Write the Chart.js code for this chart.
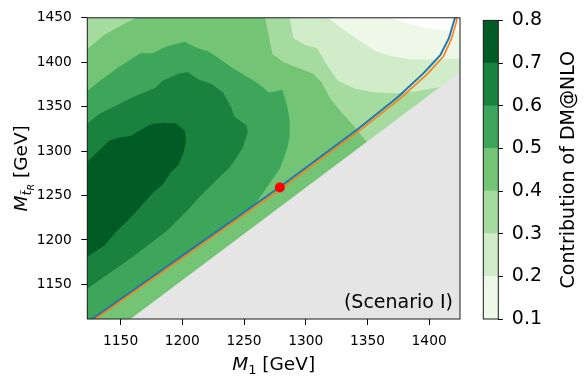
<!DOCTYPE html>
<html><head><meta charset="utf-8">
<script src="https://cdn.jsdelivr.net/npm/chart.js@4.4.0/dist/chart.umd.min.js"></script>
<style>
html,body{margin:0;padding:0;background:#fff;}
#wrap{position:relative;width:588px;height:383px;overflow:hidden;background:#fff;}
#main{position:absolute;left:0;top:0;width:470px;height:383px;}
#cbar{position:absolute;left:470px;top:0;width:118px;height:383px;}
</style></head><body>
<div id="wrap">
<canvas id="main" width="470" height="383"></canvas>
<canvas id="cbar" width="118" height="383"></canvas>
</div>
<script>
// ---------------- data (GeV) ----------------
const xRange = [1123, 1425];
const yRange = [1111, 1450];
const xTicks = [1150, 1200, 1250, 1300, 1350, 1400];
const yTicks = [1150, 1200, 1250, 1300, 1350, 1400, 1450];
const levels = [0.1, 0.2, 0.3, 0.4, 0.5, 0.6, 0.7, 0.8];
const bandColors = ['#edf8e9', '#d0ecc9', '#a6dba0', '#74c476', '#3da65a', '#19823e', '#005b25'];

// contour lines, [M1, MtR]
const contour01 = [[1369,1450],[1382,1444],[1399,1438],[1417,1435],[1425,1435]];
const contour02 = [[1318,1450],[1332,1435],[1346,1422],[1356,1413],[1369,1407],[1385,1403],[1405,1403],[1425,1404]];
const contour03 = [[1287,1450],[1290,1427],[1300,1419],[1309,1416],[1317,1397],[1326,1379],[1340,1370],[1356,1366],[1373,1365],[1389,1367],[1409,1372]];
const contour04L = [[1123,1415],[1137,1431],[1154,1444],[1163,1450]];
const contour04R = [[1267,1450],[1270,1430],[1273,1409],[1282,1400],[1293,1394],[1306,1387],[1313,1377],[1320,1359],[1328,1345],[1338,1330],[1349,1311]];
const contour05 = [[1123,1368],[1136,1382],[1148,1394],[1166,1410],[1176,1410],[1186,1417],[1202,1423],[1210,1417],[1221,1412],[1229,1405],[1240,1394],[1257,1380],[1265,1372],[1270,1366],[1275,1367],[1281,1369],[1285,1351],[1287,1334],[1287,1317],[1285,1303],[1279,1280],[1271,1264],[1261,1244],[1256,1235],[1129,1111]];
const contour06 = [[1123,1331],[1133,1342],[1156,1358],[1164,1363],[1178,1371],[1184,1379],[1197,1387],[1204,1389],[1214,1380],[1223,1376],[1233,1366],[1240,1348],[1242,1339],[1252,1329],[1253,1321],[1249,1304],[1244,1293],[1238,1281],[1229,1269],[1215,1250],[1204,1233],[1188,1211],[1160,1181],[1133,1155],[1123,1145]];
const contour07 = [[1123,1288],[1141,1312],[1148,1315],[1158,1317],[1174,1330],[1184,1332],[1195,1331],[1202,1323],[1203,1312],[1201,1298],[1197,1285],[1190,1275],[1184,1262],[1176,1253],[1171,1245],[1158,1225],[1147,1210],[1137,1194],[1123,1181]];
const excludedEdge = [[1158,1111],[1425,1389]];
const blueLine = [[1127,1111],[1279,1259.5],[1341.5,1324],[1374,1360],[1395.5,1387.7],[1409,1408],[1416,1427],[1420,1445.5],[1421.5,1453]];
const orangeLine = [[1129.5,1111],[1281,1258.5],[1343.5,1323],[1376,1358.5],[1398,1386],[1411.5,1406.5],[1418,1426],[1422,1445],[1423,1453]];
const benchmark = [1279, 1259];

// ---------------- build ----------------
const FONT = 'DejaVu Sans';
const pts = a => a.map(([x, y]) => ({x, y}));
const [x0, x1] = xRange, [y0, y1] = yRange;
const regions = [
  [[x0, y1], ...contour01, [x1, y0], [x0, y0]],
  [[x0, y1], ...contour02, [x1, y0], [x0, y0]],
  [[x0, y1], ...contour03, [x1, y0], [x0, y0]],
  [[x0, y0], ...contour04L, ...contour04R, [x1, y0]],
  [...contour05, [x0, y0]],
  contour06,
  contour07
];
const grayRegion = [...excludedEdge, [x1, y0]];

const datasets = [];
datasets.push({data: pts([benchmark]), showLine: false, pointRadius: 5, pointBackgroundColor: '#ff0000', pointBorderWidth: 0, pointBorderColor: '#ff0000', order: 0, clip: 6});
datasets.push({data: pts(orangeLine), showLine: true, fill: false, borderColor: '#ff7f0e', borderWidth: 1.6, pointRadius: 0, tension: 0, order: 1, clip: 0});
datasets.push({data: pts(blueLine), showLine: true, fill: false, borderColor: '#1f77b4', borderWidth: 2, pointRadius: 0, tension: 0, order: 2, clip: 0});
datasets.push({data: pts(grayRegion), showLine: true, fill: 'shape', backgroundColor: '#e5e5e5', borderWidth: 0, borderColor: 'rgba(0,0,0,0)', pointRadius: 0, tension: 0, order: 3, clip: 0});
regions.forEach((r, i) => datasets.push({data: pts(r), showLine: true, fill: 'shape', backgroundColor: bandColors[i], borderWidth: 0, borderColor: 'rgba(0,0,0,0)', pointRadius: 0, tension: 0, order: 10 - i, clip: 0}));

function drawParts(ctx, parts, cx, y) {
  let total = 0;
  parts.forEach(p => { ctx.font = p.f; p.w = ctx.measureText(p.t).width; total += p.w; });
  let x = cx - total / 2;
  ctx.textAlign = 'left'; ctx.textBaseline = 'alphabetic';
  parts.forEach(p => { ctx.font = p.f; ctx.fillText(p.t, x, y + p.dy); x += p.w; });
}

const mainText = {
  id: 'mainText',
  afterDraw(chart) {
    const {ctx, chartArea: ca} = chart;
    ctx.save();
    ctx.strokeStyle = '#1a1a1a'; ctx.lineWidth = 1;
    ctx.strokeRect(ca.left, ca.top, ca.width, ca.height);
    ctx.fillStyle = '#000';
    const big = 18.5;
    drawParts(ctx, [
      {t: 'M', f: `italic ${big}px "${FONT}"`, dy: 0},
      {t: '1', f: `13px "${FONT}"`, dy: 4},
      {t: ' [GeV]', f: `${big}px "${FONT}"`, dy: 0}
    ], (ca.left + ca.right) / 2, 370);
    ctx.save();
    ctx.translate(27, (ca.top + ca.bottom) / 2);
    ctx.rotate(-Math.PI / 2);
    drawParts(ctx, [
      {t: 'M', f: `italic ${big}px "${FONT}"`, dy: 0},
      {t: 't\u0303', f: `italic 13px "${FONT}"`, dy: 4},
      {t: 'R', f: `italic 9.5px "${FONT}"`, dy: 7},
      {t: ' [GeV]', f: `${big}px "${FONT}"`, dy: 0}
    ], 0, 0);
    ctx.restore();
    ctx.font = `19px "${FONT}"`; ctx.textAlign = 'right'; ctx.textBaseline = 'alphabetic';
    ctx.fillText('(Scenario I)', ca.right - 7, ca.bottom - 11);
    ctx.restore();
  }
};

new Chart(document.getElementById('main'), {
  type: 'line',
  data: {datasets},
  options: {
    responsive: false, animation: false, events: [],
    layout: {padding: {left: 0, top: 16.7, right: 10, bottom: 0}},
    plugins: {legend: {display: false}, tooltip: {enabled: false}},
    scales: {
      x: {
        type: 'linear', min: x0, max: x1,
        afterBuildTicks: s => { s.ticks = xTicks.map(v => ({value: v})); },
        afterFit: s => { s.height = 64; },
        ticks: {font: {family: FONT, size: 13.8}, color: '#000', padding: 8, maxRotation: 0, autoSkip: false, callback: v => String(v)},
        grid: {drawOnChartArea: false, drawTicks: true, tickLength: 6, tickColor: '#000', tickWidth: 1},
        border: {display: false}
      },
      y: {
        type: 'linear', min: y0, max: y1,
        afterBuildTicks: s => { s.ticks = yTicks.map(v => ({value: v})); },
        afterFit: s => { s.width = 87.3; },
        ticks: {font: {family: FONT, size: 13.8}, color: '#000', padding: 9.5, autoSkip: false, callback: v => String(v)},
        grid: {drawOnChartArea: false, drawTicks: true, tickLength: 6, tickColor: '#000', tickWidth: 1},
        border: {display: false}
      }
    }
  },
  plugins: [mainText]
});

const cbText = {
  id: 'cbText',
  afterDraw(chart) {
    const {ctx, chartArea: ca} = chart;
    ctx.save();
    ctx.strokeStyle = '#1a1a1a'; ctx.lineWidth = 1;
    ctx.strokeRect(ca.left, ca.top, ca.width, ca.height);
    ctx.translate(104, (ca.top + ca.bottom) / 2);
    ctx.rotate(-Math.PI / 2);
    ctx.font = `19px "${FONT}"`; ctx.textAlign = 'center'; ctx.textBaseline = 'alphabetic'; ctx.fillStyle = '#000';
    ctx.fillText('Contribution of DM@NLO', 0, 0);
    ctx.restore();
  }
};

new Chart(document.getElementById('cbar'), {
  type: 'bar',
  data: {
    labels: [''],
    datasets: bandColors.map((c, i) => ({data: [[levels[i], levels[i + 1]]], backgroundColor: c, borderWidth: 0, categoryPercentage: 1, barPercentage: 1, grouped: false}))
  },
  options: {
    responsive: false, animation: false, events: [],
    layout: {padding: {left: 13.3, top: 16.7, right: 0, bottom: 64}},
    plugins: {legend: {display: false}, tooltip: {enabled: false}},
    scales: {
      x: {display: false},
      y: {
        position: 'right', min: levels[0], max: levels[levels.length - 1],
        afterBuildTicks: s => { s.ticks = levels.map(v => ({value: v})); },
        afterFit: s => { s.width = 89.7; },
        ticks: {font: {family: FONT, size: 19}, color: '#000', padding: 9, callback: v => Number(v).toFixed(1)},
        grid: {drawOnChartArea: false, drawTicks: true, tickLength: 4.5, tickColor: '#000'},
        border: {display: false}
      }
    }
  },
  plugins: [cbText]
});
</script>
</body></html>
